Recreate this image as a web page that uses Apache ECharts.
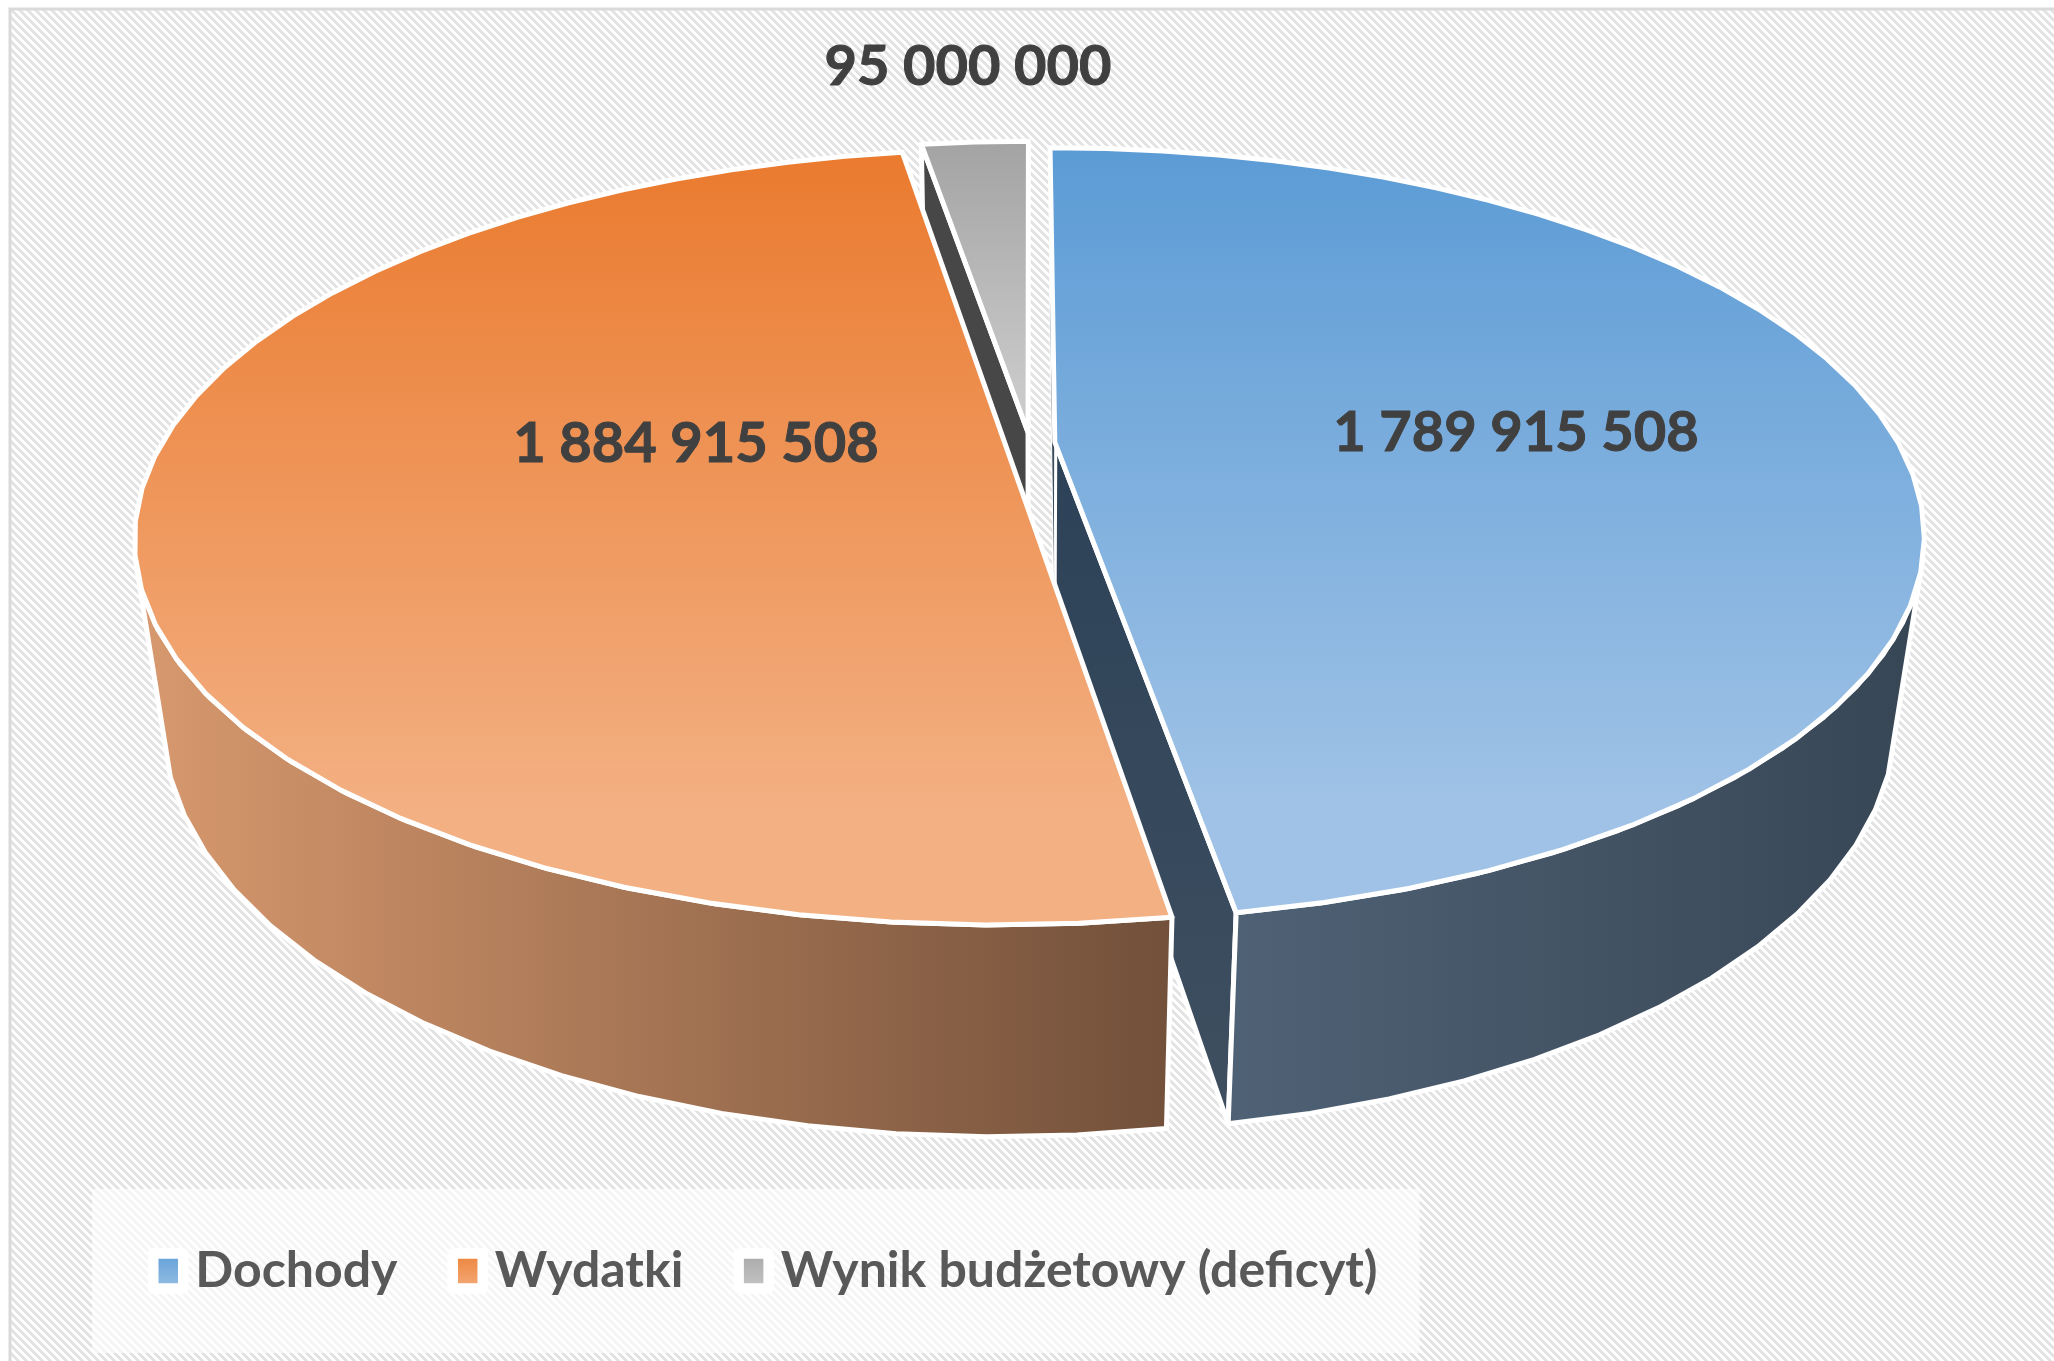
<!DOCTYPE html>
<html lang="pl">

<head>
    <meta charset="UTF-8">
    <title>Budzet</title>
    <style>
        html,
        body {
            margin: 0;
            background: #fff;
        }

        #main {
            width: 2054px;
            height: 1361px;
        }
    </style>
</head>

<body>
    <div id="main"></div>
    <script src="https://cdn.jsdelivr.net/npm/echarts@6/dist/echarts.min.js"></script>
    <script>
        const names = ['Dochody', 'Wydatki', 'Wynik budżetowy (deficyt)'];
        const values = [1789915508, 1884915508, 95000000];
        const topColors = [['#5b9bd5', '#9fc2e6'], ['#ea7a2e', '#f3b083'], ['#a3a3a3', '#c9c9c9']];
        const legendColors = [['#5b9bd5', '#9dc3e6'], ['#ed7d31', '#f4b183'], ['#a5a5a5', '#c9c9c9']];
        const labelPos = [[1516, 433], [696, 444], [968, 67]];
        const drawOrder = [2, 0, 1]; // szary z tylu, pomaranczowy na wierzchu

        // perspektywa: u w prawo, v do widza, z w dol
        const cx = 1030, cy = 443, fx = 3543, fy = 1533, fz = 767, dist = 4.2, shrink = 0.13, explode = 0.0295;
        const sideTop = 1.87, sideBottom = 1.94; // od tych katow bok jest widoczny
        const total = values.reduce((a, b) => a + b, 0);

        function project(u, v, z) {
            const w = dist - v + shrink * z;
            return [cx + fx * u / w, cy + (fy * v + fz * z) / w];
        }

        function sliceAngles(idx) {
            let start = 0;
            for (let i = 0; i < idx; i++) start += values[i] / total * Math.PI * 2;
            return [start, start + values[idx] / total * Math.PI * 2];
        }

        function point(a, r, ou, ov, z) {
            return project(ou + r * Math.sin(a), ov - r * Math.cos(a), z);
        }

        function arc(a0, a1, ou, ov, z) {
            const pts = [];
            const n = Math.max(2, Math.ceil((a1 - a0) / 0.085));
            for (let i = 0; i <= n; i++) pts.push(point(a0 + (a1 - a0) * i / n, 1, ou, ov, z));
            return pts;
        }

        function gradV(c, end) {
            return new echarts.graphic.LinearGradient(0, 0, 0, 1, [{ offset: 0, color: c[0] }, { offset: end || 1, color: c[1] }]);
        }

        function gradGlobal(x0, x1, c0, c1) {
            return new echarts.graphic.LinearGradient(x0, 0, x1, 0, [{ offset: 0, color: c0 }, { offset: 1, color: c1 }], true);
        }

        function poly(points, fill, lineWidth) {
            return {
                type: 'polygon',
                shape: { points: points },
                style: { fill: fill, stroke: '#fff', lineWidth: lineWidth, lineJoin: 'round' }
            };
        }

        function wall(a, ou, ov) {
            return [point(a, 0, ou, ov, 0), point(a, 1, ou, ov, 0), point(a, 1, ou, ov, 1), point(a, 0, ou, ov, 1)];
        }

        function renderSlice(idx) {
            return function (params, api) {
                const [a0, a1] = sliceAngles(idx);
                const mid = (a0 + a1) / 2;
                const ou = explode * Math.sin(mid), ov = -explode * Math.cos(mid);
                const children = [];
                if (idx === 2) {
                    children.push(poly(wall(a0, ou, ov), '#474747', 5));
                }
                if (idx === 0) {
                    children.push(poly(wall(a1, ou, ov), new echarts.graphic.LinearGradient(0, 0, 0, 1,
                        [{ offset: 0, color: '#2c4258' }, { offset: 1, color: '#3f4f60' }]), 5));
                    children.push(poly(wall(a0, ou, ov), '#3c4c5c', 1));
                }
                if (idx !== 2) {
                    const upper = arc(Math.max(a0, sideTop), Math.min(a1, Math.PI * 2 - sideTop), ou, ov, 0);
                    const lower = arc(Math.max(a0, sideBottom), Math.min(a1, Math.PI * 2 - sideBottom), ou, ov, 1);
                    const fill = idx === 0 ? gradGlobal(1238, 1900, '#4f6175', '#384756') : gradGlobal(135, 1170, '#d8996e', '#72503a');
                    children.push(poly(upper.concat(lower.reverse()), fill, 5));
                }
                const top = arc(a0, a1, ou, ov, 0);
                top.push(point(a1, 0, ou, ov, 0));
                children.push(poly(top, gradV(topColors[idx], 0.85), 5));
                children.push({
                    type: 'text',
                    silent: true,
                    style: {
                        text: api.value(0).toLocaleString('en-US').replace(/,/g, ' '),
                        x: labelPos[idx][0],
                        y: labelPos[idx][1],
                        fill: '#404040',
                        stroke: '#404040',
                        lineWidth: 1,
                        font: 'bold 56px Lato',
                        align: 'center',
                        verticalAlign: 'middle'
                    }
                });
                return { type: 'group', children: children };
            };
        }

        // tlo w ukosne paski
        const hatch = document.createElement('canvas');
        hatch.width = hatch.height = 8;
        const hctx = hatch.getContext('2d');
        hctx.fillStyle = '#fff';
        hctx.fillRect(0, 0, 8, 8);
        hctx.fillStyle = '#e3e3e3';
        for (let x = 0; x < 8; x++) {
            for (let y = 0; y < 8; y++) {
                if ((x - y + 8) % 8 < 4) hctx.fillRect(x, y, 1, 1);
            }
        }

        const chart = echarts.init(document.getElementById('main'));
        chart.setOption({
            animation: false,
            backgroundColor: '#fff',
            graphic: [{
                type: 'rect',
                silent: true,
                shape: { x: 10, y: 9, width: 2060, height: 1370 },
                style: { fill: { image: hatch, repeat: 'repeat' }, stroke: '#d9d9d9', lineWidth: 3 }
            }],
            legend: {
                left: 92,
                top: 1189,
                padding: [57, 42, 57, 56],
                backgroundColor: 'rgba(255,255,255,0.65)',
                data: names,
                icon: 'rect',
                itemWidth: 30,
                itemHeight: 35,
                itemGap: 50,
                selectedMode: false,
                itemStyle: { borderColor: '#fff', borderWidth: 10.5, borderJoin: 'round' },
                textStyle: { color: '#595959', fontFamily: 'Lato', fontWeight: 'bold', fontSize: 50, padding: [0, 0, 0, 7] }
            },
            series: names.map(function (name, i) {
                return {
                    type: 'custom',
                    name: name,
                    coordinateSystem: 'none',
                    z: 2 + drawOrder.indexOf(i),
                    silent: true,
                    itemStyle: { color: gradV(legendColors[i]) },
                    renderItem: renderSlice(i),
                    data: [[values[i]]]
                };
            })
        });
    </script>
</body>

</html>
